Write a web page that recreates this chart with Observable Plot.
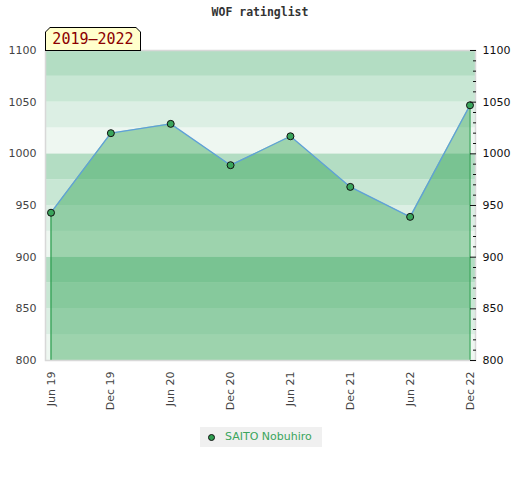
<!DOCTYPE html>
<html><head><meta charset="utf-8">
<script src="https://cdn.jsdelivr.net/npm/d3@7"></script>
<script src="https://cdn.jsdelivr.net/npm/@observablehq/plot@0.6"></script>
<style>
body{margin:0;background:#fff;}
#wrap{position:relative;width:520px;height:480px;font-family:"DejaVu Sans",sans-serif;}
#title{position:absolute;top:7px;left:0;width:520px;text-align:center;font:bold 11.5px/1 "DejaVu Sans Mono",monospace;color:#333;}
#chart{position:absolute;top:25px;left:0;}
#badge{position:absolute;left:45px;top:27px;width:96px;height:24px;background:#000;
  clip-path:polygon(5px 0,calc(100% - 5px) 0,100% 5px,100% 100%,0 100%,0 5px);}
#badgeIn{position:absolute;left:1px;top:1px;right:1px;bottom:1px;background:#ffffcc;
  clip-path:polygon(4px 0,calc(100% - 4px) 0,100% 4px,100% 100%,0 100%,0 4px);
  font:15px/22px "DejaVu Sans Mono",monospace;color:#8b0000;text-align:center;}
#legend{position:absolute;left:200px;top:427px;width:122px;height:20px;background:#f0f0f0;}
#legDot{position:absolute;left:7.5px;top:6.5px;width:5px;height:5px;border-radius:50%;background:#2e9e50;border:1px solid #111;}
#legText{position:absolute;left:25px;top:0;line-height:20px;font-size:11px;color:#3aa55c;}
</style></head>
<body>
<div id="wrap">
  <div id="title"></div>
  <div id="chart"></div>
  <div id="badge"><div id="badgeIn"></div></div>
  <div id="legend"><div id="legDot"></div><div id="legText"></div></div>
</div>
<script>
const titleText = "WOF ratinglist";
const periodText = "2019–2022";
const player = "SAITO Nobuhiro";
const periods = ["Jun 19","Dec 19","Jun 20","Dec 20","Jun 21","Dec 21","Jun 22","Dec 22"];
const ratings = [943,1020,1029,989,1017,968,939,1047];
const yTicks = [800,850,900,950,1000,1050,1100];
const yMinorTicks = [810,820,830,840,860,870,880,890,910,920,930,940,960,970,980,990,1010,1020,1030,1040,1060,1070,1080,1090];
const bandStarts = [800,825,850,875,900,925,950,975,1000,1025,1050,1075];
const bandSize = 25;

const shades = ["#eef7f1","#dcefe4","#c8e7d4","#b3ddc3"];
const data = periods.map((p,i)=>({period:p, rating:ratings[i]}));
const bands = bandStarts.map(s=>({lo:s, hi:s+bandSize, shade:shades[((s-800)/bandSize)%4]}));
const yMin = yTicks[0], yMax = yTicks[yTicks.length-1];
const ends = [data[0], data[data.length-1]];
const fmt = d => String(d);

document.getElementById("title").textContent = titleText;
document.getElementById("badgeIn").textContent = periodText;
document.getElementById("legText").textContent = player;

const chart = Plot.plot({
  width: 520, height: 390,
  marginTop: 25, marginBottom: 55, marginLeft: 45, marginRight: 45,
  style: {fontFamily: "DejaVu Sans, sans-serif", fontSize: "11px", background: "transparent"},
  x: {type: "point", domain: periods, padding: 0.092, round: false, label: null},
  y: {domain: [yMin, yMax], label: null},
  color: {type: "identity"},
  marks: [
    Plot.rect(bands, {y1: "lo", y2: "hi", fill: "shade"}),
    Plot.areaY(data, {x: "period", y1: yMin, y2: "rating", fill: "rgb(34,157,73)", fillOpacity: 0.4}),
    Plot.ruleX(ends, {x: "period", y1: yMin, y2: "rating", stroke: "#2e9e50", strokeWidth: 1.2}),
    Plot.line(data, {x: "period", y: "rating", stroke: "#5fa0d8", strokeWidth: 1.3}),
    Plot.dot(data, {x: "period", y: "rating", r: 3.5, fill: "#3aa55c", stroke: "#111", strokeWidth: 1}),
    Plot.frame({stroke: "#d8d8d8", strokeWidth: 1.5}),
    Plot.axisY({anchor: "left", ticks: yTicks, tickSize: 0, tickPadding: 9, tickFormat: fmt, fill: "#444", label: null}),
    Plot.axisY({anchor: "right", ticks: yMinorTicks, tickSize: 3, insetRight: 3, tickFormat: () => "", stroke: "#111", label: null}),
    Plot.axisY({anchor: "right", ticks: yTicks, tickSize: 6, insetRight: 6, tickFormat: () => "", stroke: "#111", label: null}),
    Plot.axisY({anchor: "right", ticks: yTicks, tickSize: 0, tickPadding: 7, tickFormat: fmt, fill: "#111", label: null}),
    Plot.axisX({tickRotate: -90, tickSize: 0, tickPadding: 11, fill: "#444", label: null})
  ]
});
document.getElementById("chart").appendChild(chart);
</script>
</body></html>
